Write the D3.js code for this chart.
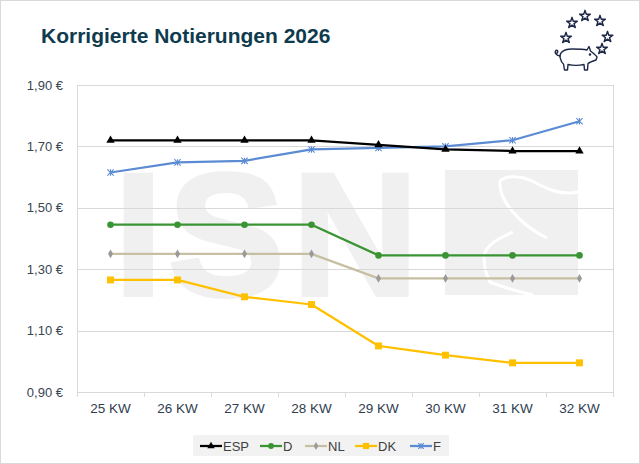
<!DOCTYPE html>
<html>
<head>
<meta charset="utf-8">
<script src="https://cdn.jsdelivr.net/npm/d3@7"></script>
<style>
  html, body { margin: 0; padding: 0; background: #fff; }
  svg { display: block; font-family: "Liberation Sans", Arial, sans-serif; }
</style>
</head>
<body>
<svg id="chart" width="640" height="464"></svg>
<script>
// weekly quotations, EUR/kg
var weeks = ['25 KW', '26 KW', '27 KW', '28 KW', '29 KW', '30 KW', '31 KW', '32 KW'];
var espValues = [1.72, 1.72, 1.72, 1.72, 1.705, 1.69, 1.685, 1.685];
var deValues = [1.445, 1.445, 1.445, 1.445, 1.345, 1.345, 1.345, 1.345];
var nlValues = [1.35, 1.35, 1.35, 1.35, 1.27, 1.27, 1.27, 1.27];
var dkValues = [1.265, 1.265, 1.21, 1.185, 1.05, 1.02, 0.995, 0.995];
var frValues = [1.615, 1.648, 1.653, 1.69, 1.695, 1.70, 1.72, 1.782];
var seriesNames = ['ESP', 'D', 'NL', 'DK', 'F'];
var yTicks = [0.9, 1.1, 1.3, 1.5, 1.7, 1.9];

// excel-like star marker: an X with a vertical bar
var symbolAsterisk = {
    draw: function(context, size) {
        var r = Math.sqrt(size) / 2;
        context.moveTo(-r, -r); context.lineTo(r, r);
        context.moveTo(-r, r); context.lineTo(r, -r);
        context.moveTo(0, -r); context.lineTo(0, r);
    }
};

var series = [
    {name: 'ESP', values: espValues, color: '#000000', mark: '#000000', symbol: d3.symbolTriangle, size: 30},
    {name: 'D', values: deValues, color: '#3a9433', mark: '#3a9433', symbol: d3.symbolCircle, size: 34},
    {name: 'NL', values: nlValues, color: '#c7bfa2', mark: '#9a9a9a', symbol: d3.symbolDiamond, size: 22},
    {name: 'DK', values: dkValues, color: '#ffc000', mark: '#ffc000', symbol: d3.symbolSquare, size: 48},
    {name: 'F', values: frValues, color: '#5b8bd3', mark: '#5b8bd3', symbol: symbolAsterisk, size: 40, stroke: true}
];

var svg = d3.select('#chart');
var plotLeft = 77, plotRight = 613, plotTop = 85, plotBottom = 392;

var x = d3.scaleBand().domain(weeks).range([plotLeft, plotRight]);
var y = d3.scaleLinear().domain([0.9, 1.9]).range([plotBottom, plotTop]);

// outer frame
svg.append('rect')
    .attr('x', 0.5).attr('y', 0.5).attr('width', 639).attr('height', 463)
    .attr('fill', '#fff').attr('stroke', '#d9d9d9');

// title
svg.append('text')
    .attr('x', 41).attr('y', 43)
    .attr('font-size', 21).attr('font-weight', 'bold')
    .attr('fill', '#0f3b4e')
    .text('Korrigierte Notierungen 2026');

// logo: stars round a pig
var logo = svg.append('g')
    .attr('fill', 'none').attr('stroke', '#1d2848')
    .attr('stroke-width', 1.4).attr('stroke-linejoin', 'round');
var starPts = [[585, 16], [572, 23], [600, 21], [566, 38], [607.5, 37], [602, 49]];
var star = d3.symbol().type(d3.symbolStar).size(36);
logo.selectAll('path.star')
    .data(starPts)
  .enter().append('path')
    .classed('star', true)
    .attr('transform', function(d) { return 'translate(' + d[0] + ',' + d[1] + ')'; })
    .attr('d', star);
logo.append('path')
    .attr('d', 'M561,60 C558,54 562,49 572,49 C579,49 583,49 587,50 L589,46.5 L590.5,51 ' +
        'C593,53 596,55 597,57 L596,60 C593,61 590,62 588,63.5 L587.5,70 L584.5,70 L584,64.5 ' +
        'C580,65.5 572,65.5 568,64.5 L567.5,70 L564.5,70 L563.5,64 C562,63 561,62 561,60 Z');
logo.append('path')
    .attr('d', 'M560.5,56 C556,55.5 554,52.5 556,50.5 C558,49.5 558.5,52.5 556.5,53.5');
logo.append('circle').attr('cx', 590).attr('cy', 54.5).attr('r', 0.6).attr('fill', '#1d2848');

// watermark
var wm = svg.append('g').attr('fill', '#f0f0f0');
[['I', 114], ['S', 168], ['N', 292]].forEach(function(l) {
    wm.append('text')
        .attr('x', l[1]).attr('y', 295)
        .attr('font-size', 175).attr('font-weight', 'bold')
        .attr('stroke', '#f0f0f0').attr('stroke-width', 4)
        .text(l[0]);
});
wm.append('rect').attr('x', 445).attr('y', 170).attr('width', 133).attr('height', 125);
wm.append('path')
    .attr('fill', 'none').attr('stroke', '#ffffff').attr('stroke-width', 3)
    .attr('d', 'M578,192 C560,196 545,188 530,180 C518,175 504,176 500,181 ' +
        'C498,200 520,225 547,238 M513,232 C500,238 486,244 484,256 ' +
        'C484,270 487,275 490,282 C505,288 520,292 533,295');

// grid and frame of the plot area
var grid = svg.append('g');
grid.selectAll('line.h')
    .data(yTicks)
  .enter().append('line')
    .classed('h', true)
    .attr('x1', plotLeft).attr('x2', plotRight)
    .attr('y1', function(d) { return Math.round(y(d)) + 0.5; })
    .attr('y2', function(d) { return Math.round(y(d)) + 0.5; })
    .attr('stroke', '#d9d9d9');
grid.selectAll('line.v')
    .data([plotLeft, plotRight])
  .enter().append('line')
    .classed('v', true)
    .attr('x1', function(d) { return d + 0.5; }).attr('x2', function(d) { return d + 0.5; })
    .attr('y1', plotTop).attr('y2', plotBottom + 5)
    .attr('stroke', '#d9d9d9');
grid.selectAll('line.t')
    .data(weeks.slice(1))
  .enter().append('line')
    .classed('t', true)
    .attr('x1', function(d) { return Math.round(x(d)) + 0.5; })
    .attr('x2', function(d) { return Math.round(x(d)) + 0.5; })
    .attr('y1', plotBottom).attr('y2', plotBottom + 5)
    .attr('stroke', '#d9d9d9');

// axis labels
svg.append('g').selectAll('text')
    .data(yTicks)
  .enter().append('text')
    .attr('x', 63).attr('y', function(d) { return y(d) + 4.5; })
    .attr('text-anchor', 'end').attr('font-size', 13).attr('fill', '#3a4552')
    .text(function(d) { return d3.format('.2f')(d).replace('.', ',') + ' \u20ac'; });

svg.append('g').selectAll('text')
    .data(weeks)
  .enter().append('text')
    .attr('x', function(d) { return x(d) + x.bandwidth() / 2; })
    .attr('y', 413)
    .attr('text-anchor', 'middle').attr('font-size', 13.5).attr('fill', '#2f3d4f')
    .text(function(d) { return d; });

// lines and markers
var line = d3.line()
    .x(function(d, i) { return x(weeks[i]) + x.bandwidth() / 2; })
    .y(function(d) { return y(d); });

var gSeries = svg.append('g').selectAll('g')
    .data(series.slice().reverse())
  .enter().append('g');

gSeries.append('path')
    .attr('d', function(s) { return line(s.values); })
    .attr('fill', 'none')
    .attr('stroke', function(s) { return s.color; })
    .attr('stroke-width', 2.25)
    .attr('stroke-linejoin', 'round');

gSeries.each(function(s) {
    var sym = d3.symbol().type(s.symbol).size(s.size);
    d3.select(this).selectAll('path.pt')
        .data(s.values)
      .enter().append('path')
        .classed('pt', true)
        .attr('transform', function(d, i) {
            return 'translate(' + (x(weeks[i]) + x.bandwidth() / 2) + ',' + y(d) + ')';
        })
        .attr('d', sym)
        .attr('fill', s.stroke ? 'none' : s.mark)
        .attr('stroke', s.stroke ? s.mark : 'none')
        .attr('stroke-width', 1.1);
});

// legend
var legend = svg.append('g');
legend.append('rect')
    .attr('x', 193).attr('y', 435).attr('width', 256).attr('height', 21)
    .attr('fill', '#f2f2f2');
var legendX = [200, 260, 305, 355, 410];
var items = legend.selectAll('g.item')
    .data(series)
  .enter().append('g')
    .classed('item', true)
    .attr('transform', function(s, i) { return 'translate(' + legendX[i] + ',446)'; });
items.append('line')
    .attr('x1', 0).attr('x2', 22)
    .attr('stroke', function(s) { return s.color; })
    .attr('stroke-width', 2.25);
items.append('path')
    .attr('transform', 'translate(11,0)')
    .attr('d', function(s) { return d3.symbol().type(s.symbol).size(s.size * 0.8)(); })
    .attr('fill', function(s) { return s.stroke ? 'none' : s.mark; })
    .attr('stroke', function(s) { return s.stroke ? s.mark : 'none'; })
    .attr('stroke-width', 1.1);
items.append('text')
    .attr('x', 23).attr('y', 4.5)
    .attr('font-size', 13).attr('fill', '#404040')
    .text(function(s, i) { return seriesNames[i]; });
</script>
</body>
</html>
